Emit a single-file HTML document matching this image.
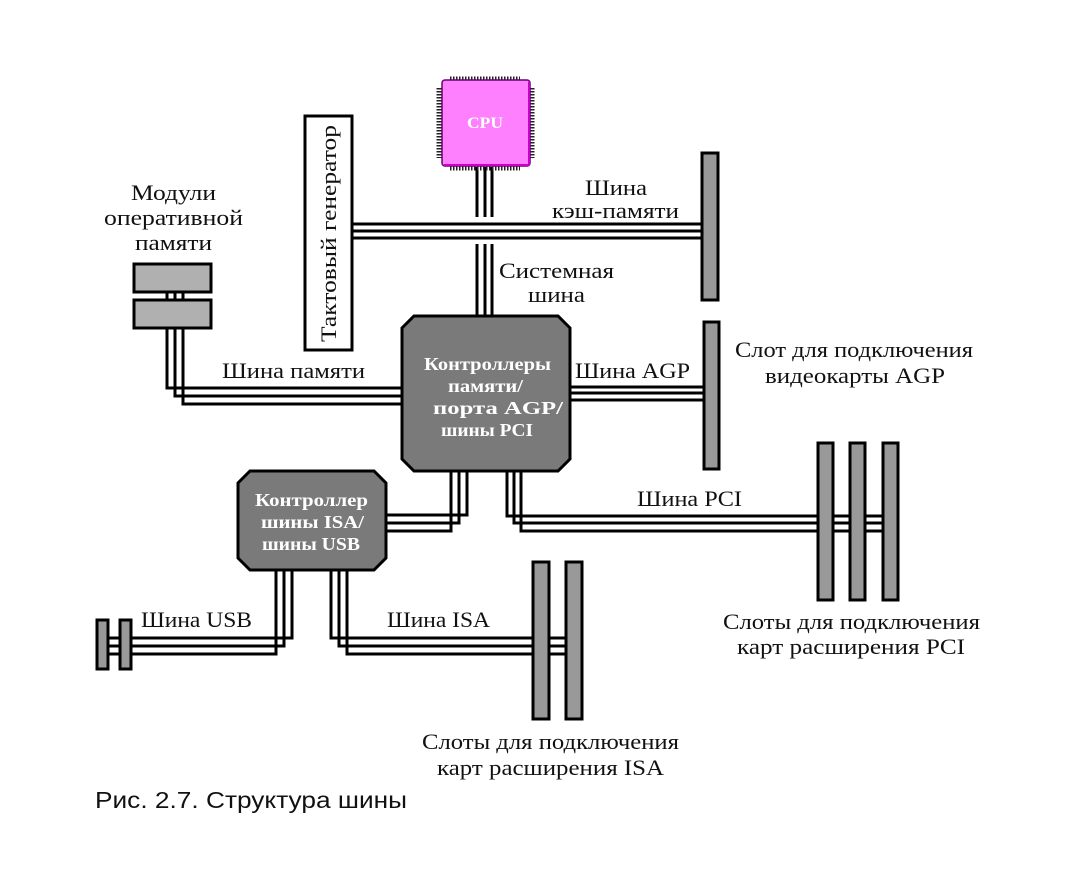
<!DOCTYPE html>
<html><head><meta charset="utf-8"><style>
html,body{margin:0;padding:0;background:#fff;}
svg{display:block;}
.s{font-family:"Liberation Serif",serif;font-size:22px;fill:#111;}
.b{font-family:"Liberation Serif",serif;font-size:18px;font-weight:bold;fill:#fff;}
</style></head><body>
<svg width="1072" height="881" viewBox="0 0 1072 881" xmlns="http://www.w3.org/2000/svg">
<g fill="none" stroke="#000" stroke-width="3">
<path d="M167 292V388H402M175 292V396H402M183 292V404H402"/>
<path d="M352 224H702M352 231H702M352 238H702"/>
<path d="M477 167V217M485 167V217M492 167V217M477 244V316M485 244V316M492 244V316"/>
<path d="M570 387H704M570 393H704M570 400H704"/>
<path d="M507 471V516H883M514 471V523H883M521 471V531H883"/>
<path d="M467 471V515H386M459 471V523H386M451 471V531H386"/>
<path d="M292 570V638H108M284 570V646H108M276 570V654H108"/>
<path d="M331 570V638H566M339 570V646H566M347 570V654H566"/>
</g>
<g stroke="#000" stroke-width="3" fill="#999">
<rect x="134" y="264" width="77" height="28" fill="#b0b0b0"/>
<rect x="134" y="300" width="77" height="28" fill="#b0b0b0"/>
<rect x="305" y="116" width="47" height="234" fill="#fff"/>
<rect x="702" y="153" width="16" height="147"/>
<rect x="704" y="322" width="15" height="147"/>
<rect x="818" y="443" width="15" height="157"/>
<rect x="850" y="443" width="15" height="157"/>
<rect x="883" y="443" width="15" height="157"/>
<rect x="533" y="562" width="16" height="157"/>
<rect x="566" y="562" width="16" height="157"/>
<rect x="97" y="620" width="11" height="49"/>
<rect x="120" y="620" width="11" height="49"/>
<polygon points="414,316 558,316 570,328 570,459 558,471 414,471 402,459 402,328" fill="#7a7a7a"/>
<polygon points="250,471 374,471 386,483 386,558 374,570 250,570 238,558 238,483" fill="#7a7a7a"/>
</g>
<g stroke="#222" stroke-width="5" stroke-dasharray="1.5 1.5">
<line x1="450" y1="79" x2="520" y2="79"/>
<line x1="450" y1="168" x2="520" y2="168"/>
<line x1="439" y1="88" x2="439" y2="158"/>
<line x1="532" y1="88" x2="532" y2="158"/>
</g>
<rect x="442" y="80" width="88" height="86" rx="3" fill="#ff80ff" stroke="#6a006a" stroke-width="1.5"/>
<path d="M529 82V165H444" fill="none" stroke="#cc00cc" stroke-width="2"/>
<text x="467" y="128" textLength="36" lengthAdjust="spacingAndGlyphs" font-family="Liberation Serif,serif" font-weight="bold" font-size="16" fill="#fff">CPU</text>

<text class="b">
<tspan x="424" y="370" textLength="127" lengthAdjust="spacingAndGlyphs">Контроллеры</tspan>
<tspan x="448" y="392" textLength="75" lengthAdjust="spacingAndGlyphs">памяти/</tspan>
<tspan x="433" y="414" textLength="130" lengthAdjust="spacingAndGlyphs">порта AGP/</tspan>
<tspan x="441" y="436" textLength="92" lengthAdjust="spacingAndGlyphs">шины PCI</tspan>
</text>
<text class="b">
<tspan x="255" y="506" textLength="113" lengthAdjust="spacingAndGlyphs">Контроллер</tspan>
<tspan x="261" y="528" textLength="103" lengthAdjust="spacingAndGlyphs">шины ISA/</tspan>
<tspan x="262" y="550" textLength="98" lengthAdjust="spacingAndGlyphs">шины USB</tspan>
</text>

<text class="s">
<tspan x="131" y="200" textLength="85" lengthAdjust="spacingAndGlyphs">Модули</tspan>
<tspan x="104" y="225" textLength="139" lengthAdjust="spacingAndGlyphs">оперативной</tspan>
<tspan x="135" y="250" textLength="77" lengthAdjust="spacingAndGlyphs">памяти</tspan>
</text>
<text class="s" x="0" y="0" textLength="217" lengthAdjust="spacingAndGlyphs" transform="translate(336,342) rotate(-90)">Тактовый генератор</text>
<text class="s">
<tspan x="585" y="195" textLength="62" lengthAdjust="spacingAndGlyphs">Шина</tspan>
<tspan x="552" y="218" textLength="127" lengthAdjust="spacingAndGlyphs">кэш-памяти</tspan>
</text>
<text class="s">
<tspan x="499" y="278" textLength="115" lengthAdjust="spacingAndGlyphs">Системная</tspan>
<tspan x="528" y="302" textLength="57" lengthAdjust="spacingAndGlyphs">шина</tspan>
</text>
<text class="s" x="222" y="378" textLength="143" lengthAdjust="spacingAndGlyphs">Шина памяти</text>
<text class="s" x="575" y="378" textLength="115" lengthAdjust="spacingAndGlyphs">Шина AGP</text>
<text class="s">
<tspan x="735" y="357" textLength="238" lengthAdjust="spacingAndGlyphs">Слот для подключения</tspan>
<tspan x="765" y="383" textLength="180" lengthAdjust="spacingAndGlyphs">видеокарты AGP</tspan>
</text>
<text class="s" x="637" y="506" textLength="105" lengthAdjust="spacingAndGlyphs">Шина PCI</text>
<text class="s" x="141" y="627" textLength="111" lengthAdjust="spacingAndGlyphs">Шина USB</text>
<text class="s" x="387" y="627" textLength="103" lengthAdjust="spacingAndGlyphs">Шина ISA</text>
<text class="s">
<tspan x="723" y="629" textLength="257" lengthAdjust="spacingAndGlyphs">Слоты для подключения</tspan>
<tspan x="737" y="654" textLength="228" lengthAdjust="spacingAndGlyphs">карт расширения PCI</tspan>
</text>
<text class="s">
<tspan x="422" y="749" textLength="257" lengthAdjust="spacingAndGlyphs">Слоты для подключения</tspan>
<tspan x="437" y="775" textLength="227" lengthAdjust="spacingAndGlyphs">карт расширения ISA</tspan>
</text>
<text x="95" y="808" textLength="312" lengthAdjust="spacingAndGlyphs" font-family="Liberation Sans,sans-serif" font-size="23" fill="#111">Рис.  2.7. Структура шины</text>
</svg>
</body></html>
